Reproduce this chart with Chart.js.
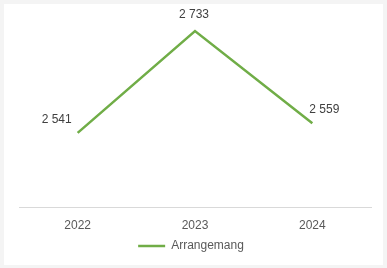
<!DOCTYPE html>
<html>
<head>
<meta charset="utf-8">
<script src="https://cdn.jsdelivr.net/npm/chart.js@4/dist/chart.umd.min.js"></script>
<style>
  html, body { margin: 0; padding: 0; background: #f4f4f4; }
  #wrap { position: absolute; left: 4px; top: 4px; width: 379px; height: 261px; background: #ffffff; }
  canvas { position: absolute; left: 0; top: 0; }
</style>
</head>
<body>
<div id="wrap"><canvas id="c" width="379" height="261"></canvas></div>
<script>
const categories = ["2022", "2023", "2024"];
const seriesName = "Arrangemang";
const seriesValues = [2541, 2733, 2559];
const valueLabels = ["2 541", "2 733", "2 559"];

const FONT = '"Liberation Sans", Arial, sans-serif';

const labelPlugin = {
  id: 'valueLabels',
  afterLayout(chart) {
    const lg = chart.legend;
    if (lg) { lg.top -= 4; lg.bottom -= 4; lg.left -= 4; lg.right -= 4; }
  },
  afterDatasetsDraw(chart) {
    const ctx = chart.ctx;
    const meta = chart.getDatasetMeta(0);
    ctx.save();
    ctx.font = '12px ' + FONT;
    ctx.fillStyle = '#404040';
    ctx.textBaseline = 'middle';
    meta.data.forEach((pt, i) => {
      const t = valueLabels[i];
      if (i === 0) { ctx.textAlign = 'right'; ctx.fillText(t, pt.x - 6, pt.y - 13); }
      else if (i === 1) { ctx.textAlign = 'center'; ctx.fillText(t, pt.x - 1, pt.y - 16); }
      else { ctx.textAlign = 'left'; ctx.fillText(t, pt.x - 3, pt.y - 14); }
    });
    ctx.restore();
  }
};

new Chart(document.getElementById('c'), {
  type: 'line',
  data: {
    labels: categories,
    datasets: [{
      label: seriesName,
      data: seriesValues,
      borderColor: '#70ad47',
      backgroundColor: '#70ad47',
      borderWidth: 2.5,
      pointRadius: 0,
      tension: 0,
      fill: false
    }]
  },
  options: {
    responsive: false,
    animation: false,
    layout: { padding: { left: 15, right: 12, top: 18, bottom: -1 } },
    scales: {
      x: {
        offset: true,
        grid: { display: false, drawTicks: false },
        border: { display: true, color: '#d9d9d9', width: 1 },
        ticks: { color: '#595959', padding: 11, font: { size: 12, family: FONT } }
      },
      y: {
        display: false,
        min: 2400,
        max: 2750
      }
    },
    plugins: {
      legend: {
        position: 'bottom',
        labels: {
          usePointStyle: true,
          pointStyle: 'line',
          pointStyleWidth: 27,
          boxHeight: 8,
          color: '#595959',
          padding: 0,
          font: { size: 12, family: FONT, lineHeight: 1 }
        }
      },
      tooltip: { enabled: false }
    }
  },
  plugins: [labelPlugin]
});
</script>
</body>
</html>
